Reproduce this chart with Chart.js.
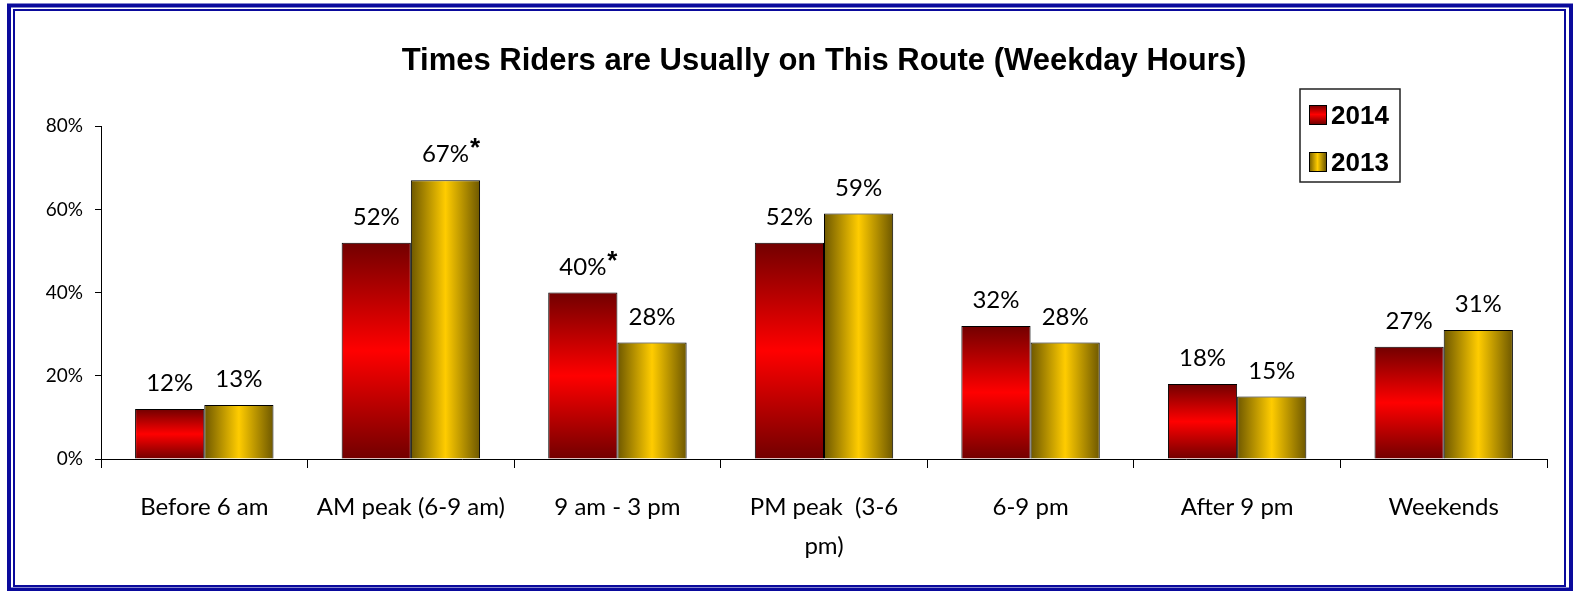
<!DOCTYPE html>
<html>
<head>
<meta charset="utf-8">
<title>Times Riders are Usually on This Route</title>
<script src="https://cdn.jsdelivr.net/npm/chart.js@4"></script>
<style>
  html, body { margin: 0; padding: 0; background: #fff; }
  #wrap { position: relative; width: 1573px; height: 591px; }
</style>
</head>
<body>
<div id="wrap"><canvas id="ridersChart"></canvas></div>
<script>
// Chart data
const categories = ['Before 6 am', 'AM peak (6-9 am)', '9 am - 3 pm', ['PM peak  (3-6', 'pm)'], '6-9 pm', 'After 9 pm', 'Weekends'];
const seriesNames = ['2014', '2013'];
const values2014 = [12, 52, 40, 52, 32, 18, 27];
const values2013 = [13, 67, 28, 59, 28, 15, 31];
const notes2014 = ['', '', '*', '', '', '', ''];
const notes2013 = ['', '*', '', '', '', '', ''];
const yTicks = [0, 20, 40, 60, 80];

const catPct = 0.67;

// Red bars: dark at top and bottom, bright in the middle
function redFill(context) {
    const chart = context.chart;
    const y = chart.scales.y;
    const v = context.raw;
    if (!y || v == null) return '#e00000';
    const top = y.getPixelForValue(v);
    const base = y.getPixelForValue(0);
    if (!isFinite(top) || !isFinite(base) || top === base) return '#e00000';
    const g = chart.ctx.createLinearGradient(0, top, 0, base);
    g.addColorStop(0, '#720000');
    g.addColorStop(0.5, '#ff0000');
    g.addColorStop(1, '#720000');
    return g;
}

// Gold bars: dark at left and right, bright in the middle
function goldFill(context) {
    const chart = context.chart;
    const x = chart.scales.x;
    if (!x || !x.width) return '#ffcc00';
    const center = x.getPixelForValue(context.dataIndex);
    const barW = x.width / categories.length * catPct / 2;
    if (!isFinite(center)) return '#ffcc00';
    const g = chart.ctx.createLinearGradient(center, 0, center + barW, 0);
    g.addColorStop(0, '#6e5800');
    g.addColorStop(0.5, '#ffcc00');
    g.addColorStop(1, '#6e5800');
    return g;
}

// Double blue frame around the whole picture
const frame = {
    id: 'frame',
    beforeDraw(chart) {
        const c = chart.ctx;
        c.save();
        c.fillStyle = '#fff';
        c.fillRect(0, 0, chart.width, chart.height);
        c.strokeStyle = '#0a0a9c';
        c.lineWidth = 4;
        c.strokeRect(9, 5.5, chart.width - 11, chart.height - 7);
        c.lineWidth = 2;
        c.strokeRect(14, 10, chart.width - 22, chart.height - 15);
        c.restore();
    }
};

// Value labels above the bars
const barLabels = {
    id: 'barLabels',
    afterDatasetsDraw(chart) {
        const c = chart.ctx;
        const notes = [notes2014, notes2013];
        c.save();
        chart.data.datasets.forEach((ds, i) => {
            const meta = chart.getDatasetMeta(i);
            meta.data.forEach((bar, j) => {
                const text = ds.data[j] + '%';
                c.font = '24px Lato';
                c.fillStyle = '#000';
                c.textAlign = 'center';
                c.textBaseline = 'alphabetic';
                c.fillText(text, bar.x, bar.y - 18);
                const note = notes[i][j];
                if (note) {
                    const w = c.measureText(text).width;
                    c.font = 'bold 26px "Liberation Sans"';
                    c.textAlign = 'left';
                    c.fillText(note, bar.x + w / 2 + 1, bar.y - 24);
                }
            });
        });
        c.restore();
    }
};

// Boxed legend in the top right corner
const boxLegend = {
    id: 'boxLegend',
    afterDraw(chart) {
        const c = chart.ctx;
        const fills = [['#720000', '#ff0000', '#720000'], ['#6e5800', '#ffcc00', '#6e5800']];
        c.save();
        c.strokeStyle = '#222';
        c.lineWidth = 1.5;
        c.strokeRect(1300, 89, 100, 93);
        seriesNames.forEach((name, i) => {
            const sy = 105 + i * 47;
            const g = i === 0
                ? c.createLinearGradient(0, sy, 0, sy + 19)
                : c.createLinearGradient(1309, 0, 1326, 0);
            g.addColorStop(0, fills[i][0]);
            g.addColorStop(0.5, fills[i][1]);
            g.addColorStop(1, fills[i][2]);
            c.fillStyle = g;
            c.fillRect(1309, sy, 17, 19);
            c.strokeStyle = '#000';
            c.lineWidth = 1;
            c.strokeRect(1309.5, sy + 0.5, 17, 19);
            c.fillStyle = '#000';
            c.font = 'bold 26px "Liberation Sans"';
            c.textAlign = 'left';
            c.textBaseline = 'alphabetic';
            c.fillText(name, 1331, sy + 19);
        });
        c.restore();
    }
};

const ctx = document.getElementById('ridersChart').getContext('2d');
const ridersChart = new Chart(ctx, {
    type: 'bar',
    data: {
        labels: categories,
        datasets: [{
            label: seriesNames[0],
            data: values2014,
            backgroundColor: redFill,
            borderColor: '#000',
            borderWidth: 1,
            categoryPercentage: catPct,
            barPercentage: 1
        }, {
            label: seriesNames[1],
            data: values2013,
            backgroundColor: goldFill,
            borderColor: '#000',
            borderWidth: 1,
            categoryPercentage: catPct,
            barPercentage: 1
        }]
    },
    options: {
        responsive: true,
        maintainAspectRatio: false,
        animation: false,
        layout: {
            padding: { left: 20, right: 26, top: 0, bottom: 0 }
        },
        scales: {
            y: {
                min: 0,
                max: 80,
                afterBuildTicks: (scale) => {
                    scale.ticks = yTicks.map(v => ({ value: v }));
                },
                afterFit: (scale) => { scale.width = 81; },
                border: { display: true, color: '#000', width: 1 },
                grid: {
                    drawOnChartArea: false,
                    drawTicks: true,
                    tickLength: 6,
                    color: '#000'
                },
                ticks: {
                    padding: 12,
                    color: '#000',
                    font: { family: 'Lato', size: 19 },
                    callback: (v) => v + '%'
                }
            },
            x: {
                afterFit: (scale) => { scale.height = 132; },
                border: { display: true, color: '#000', width: 1 },
                grid: {
                    offset: true,
                    drawOnChartArea: false,
                    drawTicks: true,
                    tickLength: 9,
                    color: '#000'
                },
                ticks: {
                    padding: 19,
                    maxRotation: 0,
                    autoSkip: false,
                    color: '#000',
                    font: { family: 'Lato', size: 24, lineHeight: 1.65 }
                }
            }
        },
        plugins: {
            legend: { display: false },
            tooltip: { enabled: false },
            title: {
                display: true,
                fullSize: false,
                text: 'Times Riders are Usually on This Route (Weekday Hours)',
                color: '#000',
                font: { family: '"Liberation Sans", Arial, sans-serif', size: 31, weight: 'bold', lineHeight: 1.2 },
                padding: { top: 43, bottom: 46 }
            }
        }
    },
    plugins: [frame, barLabels, boxLegend]
});
</script>
</body>
</html>
